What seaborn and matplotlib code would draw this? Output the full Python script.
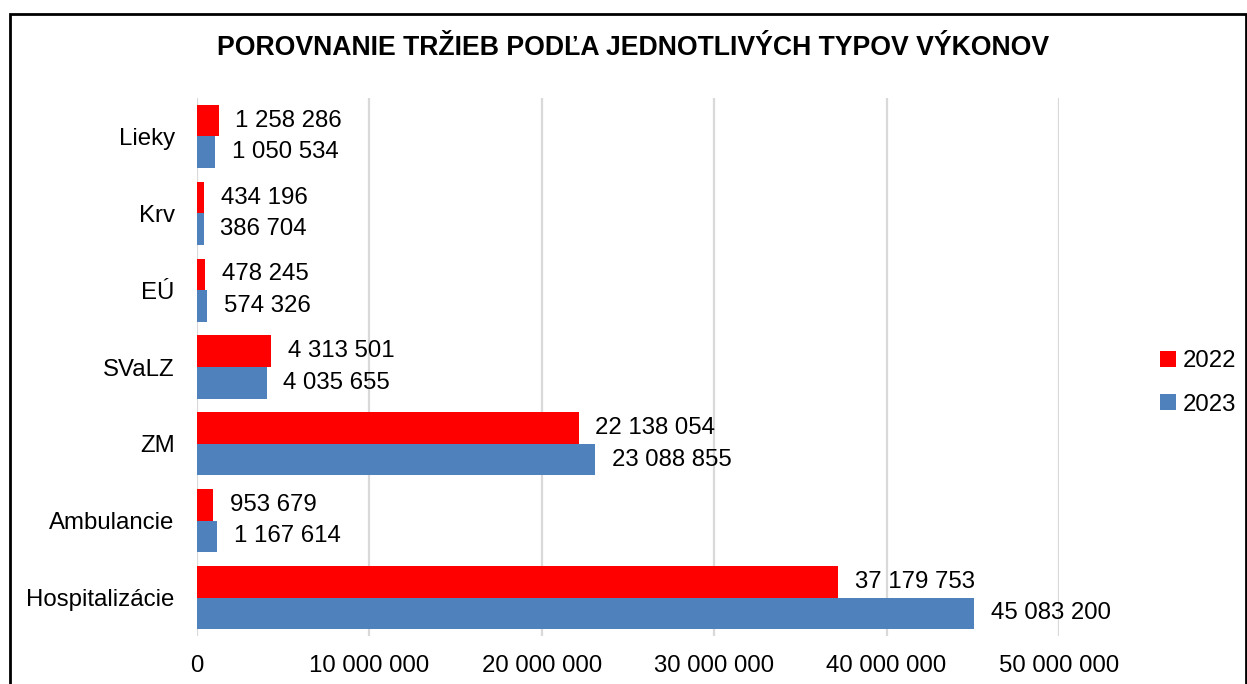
import matplotlib
matplotlib.use("Agg")
import matplotlib.pyplot as plt
import seaborn as sns
import pandas as pd
from matplotlib.patches import Rectangle
from matplotlib.ticker import FuncFormatter

categories = ["Lieky", "Krv", "EÚ", "SVaLZ", "ZM", "Ambulancie", "Hospitalizácie"]
values_2022 = [1258286, 434196, 478245, 4313501, 22138054, 953679, 37179753]
values_2023 = [1050534, 386704, 574326, 4035655, 23088855, 1167614, 45083200]
years = ["2022", "2023"]
x_ticks = [0, 10000000, 20000000, 30000000, 40000000, 50000000]
title = "POROVNANIE TRŽIEB PODĽA JEDNOTLIVÝCH TYPOV VÝKONOV"

df = pd.DataFrame({
    "cat": categories * 2,
    "year": [years[0]] * len(categories) + [years[1]] * len(categories),
    "val": values_2022 + values_2023,
})

sns.set_theme(style="white")
plt.rcParams["font.family"] = ["Liberation Sans", "DejaVu Sans"]
plt.rcParams["text.color"] = "black"

def fmt(v):
    return f"{int(round(v)):,}".replace(",", " ")

FS = 17.3

fig = plt.figure(figsize=(12.47, 6.84), dpi=100)
ax = fig.add_axes([197/1247, 1-636/684, (1059-197)/1247, (636-98)/684])

sns.barplot(data=df, y="cat", x="val", hue="year", order=categories,
            hue_order=years, palette=["#FF0000", "#4F81BD"], orient="h",
            width=0.82, saturation=1, ax=ax, legend=True, linewidth=0)

for cont in ax.containers:
    for b in cont:
        b.set_edgecolor("none")
    ax.bar_label(cont, labels=[fmt(b.get_width()) for b in cont], padding=12,
                 fontsize=FS, color="black")

ax.set_xlim(0, 50000000)
ax.set_ylim(6.5, -0.5)
ax.set_xticks(x_ticks)
ax.xaxis.set_major_formatter(FuncFormatter(lambda v, p: fmt(v)))
ax.set_xlabel("")
ax.set_ylabel("")
ax.tick_params(axis="both", length=0, labelsize=FS, colors="black")
ax.tick_params(axis="x", pad=14)
ax.tick_params(axis="y", pad=16)
ax.grid(axis="x", color="#D9D9D9", linewidth=1.6)
ax.set_axisbelow(True)
for s in ax.spines.values():
    s.set_visible(False)

leg = ax.legend(loc="center left", bbox_to_anchor=(1160/1247, 1-383/684),
                bbox_transform=fig.transFigure, frameon=False, fontsize=FS,
                handlelength=0.65, handleheight=0.65, handletextpad=0.3,
                labelspacing=0.9, borderpad=0, borderaxespad=0)
for t in leg.get_texts():
    t.set_color("black")

fig.text(633/1247, 1-48/684, title, ha="center", va="center",
         fontsize=19.2, fontweight="bold", color="black")

fig.patches.append(Rectangle((9.5/1247, -0.1), (1245.5-9.5)/1247, 1.1 - 14/684,
                             transform=fig.transFigure, fill=False,
                             edgecolor="black", linewidth=2, zorder=10))

fig.savefig("out.png", dpi=100)
